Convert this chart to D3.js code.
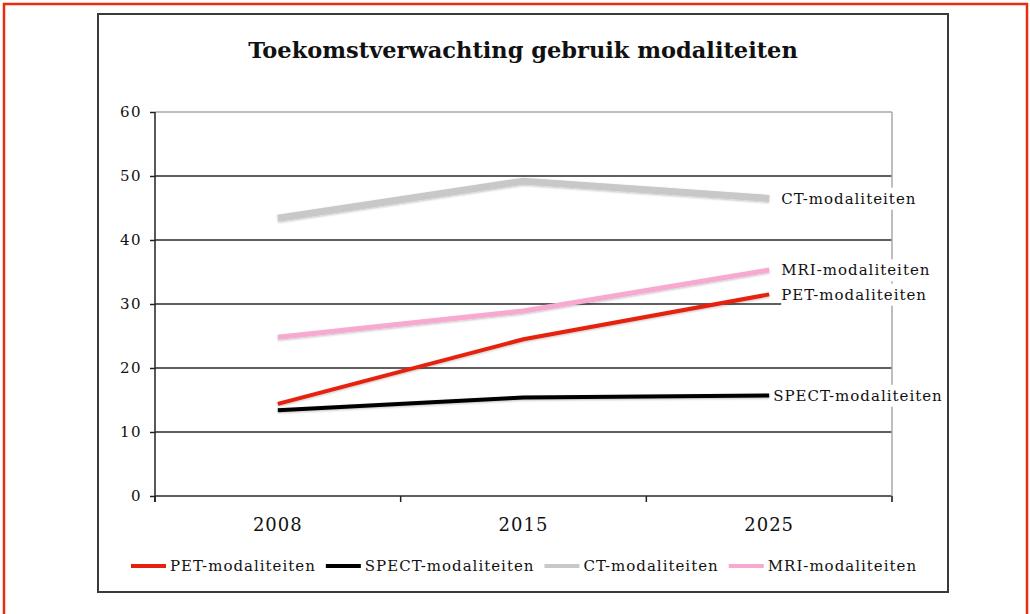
<!DOCTYPE html>
<html>
<head>
<meta charset="utf-8">
<script src="https://cdn.jsdelivr.net/npm/d3@7"></script>
<style>
  html, body { margin: 0; padding: 0; background: #fff; }
  svg { display: block; }
  text { font-family: "DejaVu Serif", Georgia, serif; fill: #111; }
</style>
</head>
<body>
<div id="chart"></div>
<script>
// chart data
const years = ['2008', '2015', '2025'];
const seriesNames = ['PET-modaliteiten', 'SPECT-modaliteiten', 'CT-modaliteiten', 'MRI-modaliteiten'];
const petValues = [14.4, 24.5, 31.5];
const spectValues = [13.4, 15.4, 15.7];
const ctValues = [43.4, 49.2, 46.5];
const mriValues = [24.8, 28.9, 35.3];
const yTicks = [0, 10, 20, 30, 40, 50, 60];
const title = 'Toekomstverwachting gebruik modaliteiten';

const colors = ['#e5200e', '#000000', '#c8c8c8', '#f7a9cf'];
const widths = [4, 4, 7, 5];
const labelDx = [12, 4, 12, 12];

const series = seriesNames.map((name, i) => ({
    name: name,
    values: [petValues, spectValues, ctValues, mriValues][i],
    color: colors[i],
    width: widths[i],
    dx: labelDx[i]
}));

const width = 1030, height = 614;

const svg = d3.select('#chart')
              .append('svg')
              .attr('width', width)
              .attr('height', height);

const defs = svg.append('defs');
const shadow = defs.append('filter')
                   .attr('id', 'shadow')
                   .attr('x', '-5%').attr('y', '-20%')
                   .attr('width', '110%').attr('height', '140%');
shadow.append('feDropShadow')
      .attr('dx', 0).attr('dy', 1)
      .attr('stdDeviation', 0.8)
      .attr('flood-color', '#000')
      .attr('flood-opacity', 0.25);

// red page border
svg.append('rect')
   .attr('x', 4).attr('y', 4)
   .attr('width', 1023).attr('height', 620)
   .attr('fill', 'none')
   .attr('stroke', '#ec2a0e')
   .attr('stroke-width', 2.5);

// chart frame
svg.append('rect')
   .attr('x', 98).attr('y', 14)
   .attr('width', 850).attr('height', 578)
   .attr('fill', '#fff')
   .attr('stroke', '#3a3a3a')
   .attr('stroke-width', 2);

svg.append('text')
   .attr('x', 523).attr('y', 58)
   .attr('text-anchor', 'middle')
   .attr('font-size', 22.5)
   .attr('font-weight', 'bold')
   .text(title);

const x = d3.scaleBand()
            .domain(years)
            .range([155, 892])
            .paddingInner(0)
            .paddingOuter(0);

const y = d3.scaleLinear()
            .domain([0, 60])
            .range([496, 112]);

const cx = d => x(d) + x.bandwidth() / 2;

// gridlines
svg.append('g')
   .selectAll('line')
   .data(yTicks)
   .enter().append('line')
   .attr('x1', 155).attr('x2', 892)
   .attr('y1', d => y(d)).attr('y2', d => y(d))
   .attr('stroke', d => d === 60 ? '#a8a8a8' : '#2a2a2a')
   .attr('stroke-width', 1.5);

// right plot border
svg.append('line')
   .attr('x1', 892).attr('x2', 892)
   .attr('y1', y(60)).attr('y2', y(0) + 6)
   .attr('stroke', '#a8a8a8')
   .attr('stroke-width', 1.5);

// y axis
const yAxis = svg.append('g')
                 .attr('transform', 'translate(155,0)')
                 .call(d3.axisLeft(y).tickValues(yTicks).tickSize(5).tickPadding(8));
yAxis.select('.domain').attr('stroke', '#222').attr('stroke-width', 1.5)
     .attr('d', 'M0,' + y(60) + 'V' + (y(0) + 6));
yAxis.selectAll('.tick line').attr('stroke', '#222').attr('stroke-width', 1.5);
yAxis.selectAll('.tick text')
     .attr('font-family', '"DejaVu Serif", serif')
     .attr('font-size', 15)
     .attr('letter-spacing', 1.5)
     .attr('fill', '#1a1a2a');

// x axis
const xAxis = svg.append('g')
                 .attr('transform', 'translate(0,' + y(0) + ')');
xAxis.append('g')
     .selectAll('line')
     .data(years.concat(['end']))
     .enter().append('line')
     .attr('x1', (d, i) => i < years.length ? x(d) : x.range()[1])
     .attr('x2', (d, i) => i < years.length ? x(d) : x.range()[1])
     .attr('y1', 0).attr('y2', 6)
     .attr('stroke', '#222')
     .attr('stroke-width', 1.5);
xAxis.selectAll('text.year')
     .data(years)
     .enter().append('text')
     .attr('class', 'year')
     .attr('x', d => cx(d))
     .attr('y', 35)
     .attr('text-anchor', 'middle')
     .attr('font-size', 18)
     .attr('letter-spacing', 1)
     .text(d => d);

// lines
const line = d3.line()
               .x((d, i) => cx(years[i]))
               .y(d => y(d));

svg.append('g')
   .selectAll('path')
   .data(series)
   .enter().append('path')
   .attr('d', d => line(d.values))
   .attr('fill', 'none')
   .attr('stroke', d => d.color)
   .attr('stroke-width', d => d.width)
   .attr('stroke-linejoin', 'round')
   .attr('filter', 'url(#shadow)');

// end labels with white background
const labels = svg.append('g');
series.forEach(s => {
    const g = labels.append('g');
    const t = g.append('text')
               .attr('x', cx(years[years.length - 1]) + s.dx)
               .attr('y', y(s.values[s.values.length - 1]))
               .attr('dy', '0.35em')
               .attr('font-size', 15)
               .attr('letter-spacing', 1)
               .text(s.name);
    const b = t.node().getBBox();
    g.insert('rect', 'text')
     .attr('x', b.x).attr('y', b.y - 2)
     .attr('width', b.width + 2).attr('height', b.height + 4)
     .attr('fill', '#fff');
});

// legend
const legend = svg.append('g');
let lx = 131;
series.forEach(s => {
    legend.append('line')
          .attr('x1', lx).attr('x2', lx + 35)
          .attr('y1', 566).attr('y2', 566)
          .attr('stroke', s.color)
          .attr('stroke-width', 4);
    const t = legend.append('text')
                    .attr('x', lx + 39)
                    .attr('y', 566)
                    .attr('dy', '0.35em')
                    .attr('font-size', 15)
                    .attr('letter-spacing', 1)
                    .text(s.name);
    lx += 39 + t.node().getComputedTextLength() + 10;
});
</script>
</body>
</html>
